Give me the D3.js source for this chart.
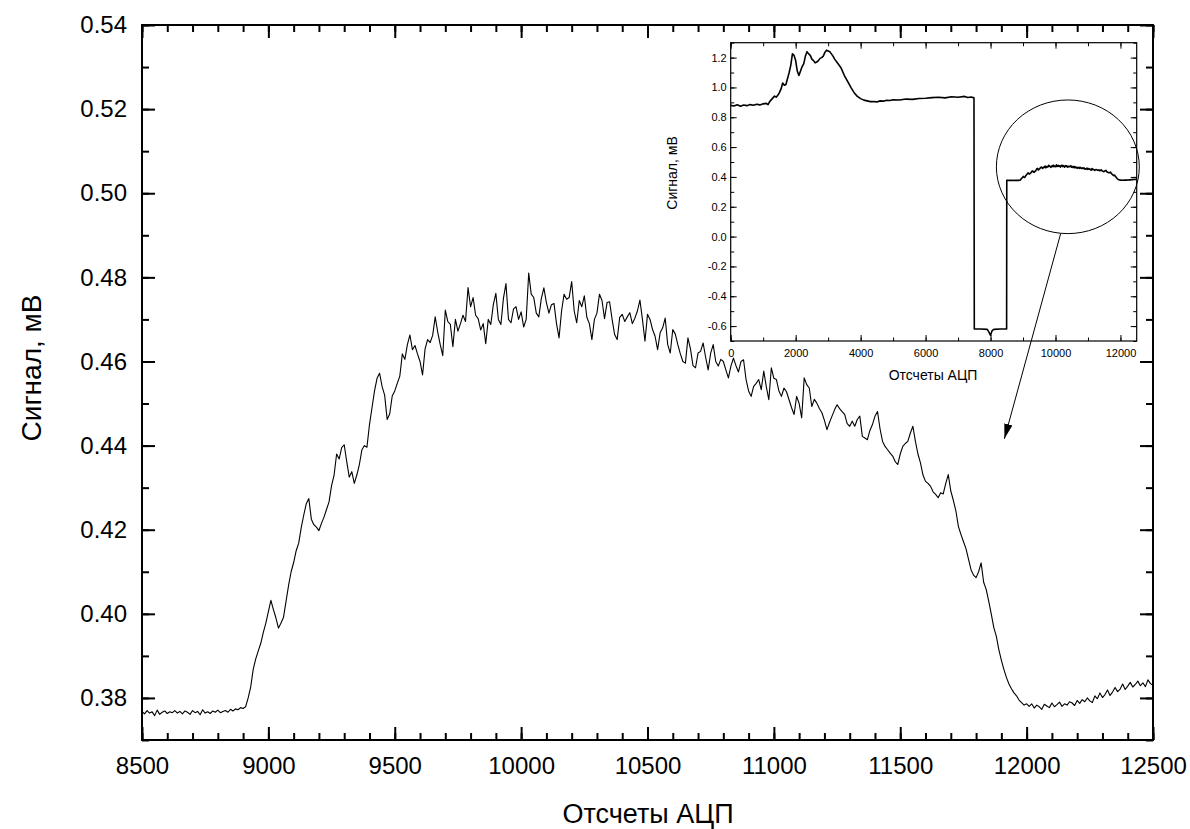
<!DOCTYPE html>
<html>
<head>
<meta charset="utf-8">
<script src="https://cdn.jsdelivr.net/npm/d3@7"></script>
<style>
  body { margin: 0; background: #fff; }
  svg { display: block; font-family: "Liberation Sans", Arial, sans-serif; }
</style>
</head>
<body>
<div id="chart"></div>
<script>
// Main trace: ADC counts 8500..12500, every 10th sample, signal in mV
const countStart = 8500, countStep = 10;
const signal = [
  0.3768, 0.3762, 0.3770, 0.3764, 0.3767, 0.3758, 0.3771, 0.3761, 0.3766, 0.3769,
  0.3763, 0.3767, 0.3765, 0.3770, 0.3764, 0.3768, 0.3762, 0.3769, 0.3766, 0.3761,
  0.3770, 0.3765, 0.3768, 0.3760, 0.3772, 0.3764, 0.3767, 0.3763, 0.3769, 0.3766,
  0.3771, 0.3765, 0.3768, 0.3770, 0.3766, 0.3773, 0.3769, 0.3774, 0.3772, 0.3777,
  0.3775,
  // 8910 - 9100
  0.3779, 0.3800, 0.3826, 0.3868, 0.3893, 0.3912, 0.3930, 0.3956, 0.3978, 0.4005,
  0.4032, 0.4010, 0.3990, 0.3966, 0.3978, 0.3992, 0.4030, 0.4068, 0.4100, 0.4122,
  // 9110 - 9500
  0.4150, 0.4168, 0.4205, 0.4235, 0.4262, 0.4274, 0.4225, 0.4212, 0.4206, 0.4198,
  0.4215, 0.4230, 0.4248, 0.4266, 0.4305, 0.4330, 0.4380, 0.4368, 0.4395, 0.4402,
  0.4362, 0.4325, 0.4338, 0.4310, 0.4330, 0.4355, 0.4390, 0.4400, 0.4396, 0.4450,
  0.4490, 0.4530, 0.4560, 0.4572, 0.4540, 0.4520, 0.4462, 0.4475, 0.4518, 0.4530,
  // 9510 - 10000
  0.4548, 0.4565, 0.4618, 0.4605, 0.4640, 0.4663, 0.4628, 0.4638, 0.4618, 0.4600,
  0.4568, 0.4630, 0.4652, 0.4645, 0.4662, 0.4706, 0.4670, 0.4640, 0.4614, 0.4722,
  0.4695, 0.4688, 0.4635, 0.4700, 0.4672, 0.4690, 0.4710, 0.4695, 0.4776, 0.4730,
  0.4752, 0.4710, 0.4702, 0.4675, 0.4690, 0.4642, 0.4700, 0.4688, 0.4735, 0.4762,
  0.4700, 0.4688, 0.4750, 0.4785, 0.4700, 0.4692, 0.4725, 0.4730, 0.4700, 0.4718,
  // 10010 - 10500
  0.4682, 0.4700, 0.4810, 0.4760, 0.4752, 0.4715, 0.4706, 0.4750, 0.4775, 0.4740,
  0.4715, 0.4735, 0.4738, 0.4690, 0.4656, 0.4720, 0.4760, 0.4748, 0.4752, 0.4790,
  0.4720, 0.4692, 0.4745, 0.4730, 0.4756, 0.4705, 0.4690, 0.4652, 0.4700, 0.4715,
  0.4760, 0.4745, 0.4702, 0.4740, 0.4742, 0.4700, 0.4664, 0.4652, 0.4705, 0.4712,
  0.4695, 0.4706, 0.4716, 0.4690, 0.4703, 0.4720, 0.4746, 0.4700, 0.4648, 0.4712,
  // 10510 - 11000
  0.4700, 0.4676, 0.4660, 0.4628, 0.4668, 0.4680, 0.4703, 0.4640, 0.4620, 0.4676,
  0.4665, 0.4640, 0.4618, 0.4600, 0.4596, 0.4656, 0.4630, 0.4590, 0.4585, 0.4620,
  0.4624, 0.4644, 0.4610, 0.4580, 0.4620, 0.4640, 0.4600, 0.4589, 0.4605, 0.4600,
  0.4580, 0.4561, 0.4589, 0.4608, 0.4590, 0.4575, 0.4600, 0.4604, 0.4557, 0.4530,
  0.4517, 0.4541, 0.4548, 0.4557, 0.4533, 0.4577, 0.4540, 0.4509, 0.4585, 0.4560,
  // 11010 - 11500
  0.4557, 0.4530, 0.4517, 0.4537, 0.4528, 0.4509, 0.4490, 0.4474, 0.4517, 0.4500,
  0.4466, 0.4561, 0.4545, 0.4537, 0.4493, 0.4510, 0.4501, 0.4488, 0.4478, 0.4460,
  0.4438, 0.4455, 0.4470, 0.4485, 0.4497, 0.4488, 0.4481, 0.4474, 0.4452, 0.4446,
  0.4458, 0.4446, 0.4462, 0.4470, 0.4422, 0.4418, 0.4414, 0.4436, 0.4450, 0.4470,
  0.4481, 0.4440, 0.4410, 0.4398, 0.4390, 0.4382, 0.4375, 0.4362, 0.4355, 0.4380,
  // 11510 - 12000
  0.4398, 0.4405, 0.4410, 0.4430, 0.4446, 0.4410, 0.4380, 0.4359, 0.4330, 0.4315,
  0.4310, 0.4303, 0.4290, 0.4284, 0.4276, 0.4288, 0.4285, 0.4310, 0.4331, 0.4292,
  0.4270, 0.4245, 0.4208, 0.4189, 0.4172, 0.4155, 0.4130, 0.4105, 0.4092, 0.4086,
  0.4100, 0.4121, 0.4075, 0.4058, 0.4030, 0.4000, 0.3968, 0.3947, 0.3915, 0.3890,
  0.3868, 0.3849, 0.3833, 0.3822, 0.3812, 0.3805, 0.3795, 0.3789, 0.3783, 0.3786,
  // 12010 - 12500
  0.3780, 0.3786, 0.3776, 0.3783, 0.3779, 0.3773, 0.3785, 0.3781, 0.3777, 0.3788,
  0.3779, 0.3784, 0.3790, 0.3780, 0.3786, 0.3783, 0.3791, 0.3788, 0.3782, 0.3794,
  0.3787, 0.3796, 0.3791, 0.3800, 0.3793, 0.3789, 0.3805, 0.3798, 0.3812, 0.3801,
  0.3808, 0.3819, 0.3806, 0.3814, 0.3825, 0.3815, 0.3821, 0.3833, 0.3820, 0.3828,
  0.3837, 0.3826, 0.3832, 0.3840, 0.3829, 0.3836, 0.3827, 0.3843, 0.3834, 0.3830
];

// Inset: full record before the zoomed part (counts, mV)
const insetCounts = [
  0, 100, 200, 300, 400, 500, 600, 700, 800, 900, 1000, 1100, 1150, 1200, 1300, 1350,
  1400, 1450, 1500, 1550, 1600, 1650, 1700, 1750, 1800, 1850, 1900, 1950, 2000, 2050,
  2100, 2150, 2200, 2250, 2300, 2350, 2400, 2450, 2500, 2550, 2600, 2650, 2700, 2750,
  2800, 2850, 2900, 2950, 3000, 3050, 3100, 3150, 3200, 3300, 3400, 3500, 3600, 3700,
  3800, 3900, 4000, 4100, 4200, 4300, 4400, 4500, 4600, 4700, 4800, 4900, 5000, 5200,
  5400, 5600, 5800, 6000, 6200, 6400, 6600, 6800, 7000, 7200, 7300, 7400, 7490, 7500,
  7700, 7900, 7950, 8000, 8050, 8100, 8300, 8495
];
const insetSignal = [
  0.880, 0.876, 0.884, 0.874, 0.882, 0.878, 0.885, 0.880, 0.887, 0.883, 0.890, 0.893, 0.885, 0.905, 0.930, 0.942,
  0.935, 0.948, 0.965, 0.990, 1.030, 1.015, 1.020, 1.060, 1.100, 1.150, 1.225, 1.215, 1.180, 1.110,
  1.080, 1.110, 1.140, 1.160, 1.210, 1.240, 1.225, 1.215, 1.190, 1.180, 1.165, 1.170, 1.180, 1.195,
  1.200, 1.210, 1.235, 1.250, 1.245, 1.240, 1.225, 1.210, 1.190, 1.160, 1.130, 1.080, 1.040, 1.000,
  0.965, 0.940, 0.925, 0.915, 0.910, 0.905, 0.906, 0.903, 0.910, 0.908, 0.914, 0.912, 0.918, 0.916,
  0.922, 0.920, 0.926, 0.928, 0.932, 0.934, 0.930, 0.938, 0.934, 0.940, 0.932, 0.936, 0.930, -0.620,
  -0.620, -0.622, -0.640, -0.662, -0.630, -0.622, -0.620, -0.620
];

const xTicks = [8500, 9000, 9500, 10000, 10500, 11000, 11500, 12000, 12500];
const yTicks = [0.38, 0.40, 0.42, 0.44, 0.46, 0.48, 0.50, 0.52, 0.54];
const insetXTicks = [0, 2000, 4000, 6000, 8000, 10000, 12000];
const insetYTicks = [-0.6, -0.4, -0.2, 0.0, 0.2, 0.4, 0.6, 0.8, 1.0, 1.2];

// highlighted region in inset (data units) and arrow target in main plot
const zoomEllipse = { cx: 10380, cy: 0.468, rx: 2200, ry: 0.448 };
const arrowFrom = { x: 10160, y: 0.021 };
const arrowTo = { x: 11912, y: 0.4416 };

const W = 1190, H = 829;
const svg = d3.select('#chart').append('svg')
  .attr('width', W).attr('height', H);

svg.append('defs').append('marker')
  .attr('id', 'head')
  .attr('viewBox', '0 0 10 10')
  .attr('refX', 10).attr('refY', 5)
  .attr('markerWidth', 15).attr('markerHeight', 15)
  .attr('markerUnits', 'userSpaceOnUse')
  .attr('orient', 'auto')
  .append('path').attr('d', 'M0,2.2 L10,5 L0,7.8 Z').attr('fill', '#000');

// draws a boxed Origin-style frame with inward major/minor ticks on all 4 sides
function drawFrame(g, x, y, o) {
  const [x0, x1] = x.range(), [y0, y1] = y.range();
  const sides = [
    [d3.axisBottom, x, `translate(0,${y0})`, o.xMajor, o.xMinor, o.xFmt, o.xPad],
    [d3.axisTop, x, `translate(0,${y1})`, o.xMajor, o.xMinor, null, 0],
    [d3.axisLeft, y, `translate(${x0},0)`, o.yMajor, o.yMinor, o.yFmt, o.yPad],
    [d3.axisRight, y, `translate(${x1},0)`, o.yMajor, o.yMinor, null, 0]
  ];
  sides.forEach(([axisFn, sc, tr, major, minor, fmt, pad]) => {
    const minorAx = g.append('g').attr('transform', tr)
      .call(axisFn(sc).tickValues(minor).tickSize(-o.minorLen).tickSizeOuter(0).tickFormat(''));
    const majorAx = g.append('g').attr('transform', tr)
      .call(axisFn(sc).tickValues(major).tickSize(-o.majorLen).tickSizeOuter(0)
        .tickPadding(pad).tickFormat(fmt || (() => '')));
    [minorAx, majorAx].forEach(a => {
      a.select('.domain').remove();
      a.selectAll('line').attr('stroke', '#000').attr('stroke-width', o.tickW);
      a.selectAll('text').attr('fill', '#000')
        .attr('font-size', o.labelSize)
        .attr('font-family', '"Liberation Sans", Arial, sans-serif');
    });
  });
  g.append('rect')
    .attr('x', x0).attr('y', y1)
    .attr('width', x1 - x0).attr('height', y0 - y1)
    .attr('fill', 'none').attr('stroke', '#000').attr('stroke-width', o.frameW);
}

// ---- main plot ----
const x = d3.scaleLinear().domain([8500, 12500]).range([142, 1153]);
const y = d3.scaleLinear().domain([0.37, 0.54]).range([740, 25]);

const mainG = svg.append('g');
mainG.append('path')
  .datum(signal)
  .attr('fill', 'none')
  .attr('stroke', '#000')
  .attr('stroke-width', 1.1)
  .attr('stroke-linejoin', 'round')
  .attr('d', d3.line()
    .x((d, i) => x(countStart + i * countStep))
    .y(d => y(d)));

drawFrame(mainG, x, y, {
  xMajor: xTicks, xMinor: d3.range(8500, 12501, 100),
  yMajor: yTicks, yMinor: d3.range(37, 55).map(v => v / 100),
  xFmt: d => String(d), yFmt: d => d.toFixed(2),
  xPad: 17, yPad: 15,
  majorLen: 13, minorLen: 7, tickW: 2, frameW: 2, labelSize: 24
});

svg.append('text')
  .attr('x', 648).attr('y', 823)
  .attr('text-anchor', 'middle')
  .attr('font-size', 27)
  .text('Отсчеты АЦП');
svg.append('text')
  .attr('transform', 'translate(41,368) rotate(-90)')
  .attr('text-anchor', 'middle')
  .attr('font-size', 28)
  .text('Сигнал, мВ');

// ---- inset ----
const ix = d3.scaleLinear().domain([0, 12500]).range([730.7, 1136.7]);
const iy = d3.scaleLinear().domain([-0.7, 1.3]).range([341, 42.7]);

const insetData = insetCounts.map((c, i) => [c, insetSignal[i]])
  .concat(signal.map((v, i) => [countStart + i * countStep, v]));

const insetG = svg.append('g');
insetG.append('path')
  .datum(insetData)
  .attr('fill', 'none')
  .attr('stroke', '#000')
  .attr('stroke-width', 1.6)
  .attr('stroke-linejoin', 'round')
  .attr('d', d3.line().x(d => ix(d[0])).y(d => iy(d[1])));

drawFrame(insetG, ix, iy, {
  xMajor: insetXTicks, xMinor: d3.range(0, 12501, 1000),
  yMajor: insetYTicks, yMinor: d3.range(-7, 14).map(v => v / 10),
  xFmt: d => String(d), yFmt: d => d.toFixed(1),
  xPad: 8, yPad: 4,
  majorLen: 6, minorLen: 3.5, tickW: 1, frameW: 1.2, labelSize: 11
});

insetG.append('text')
  .attr('x', 933).attr('y', 380)
  .attr('text-anchor', 'middle')
  .attr('font-size', 14)
  .text('Отсчеты АЦП');
insetG.append('text')
  .attr('transform', 'translate(677,173) rotate(-90)')
  .attr('text-anchor', 'middle')
  .attr('font-size', 14)
  .text('Сигнал, мВ');

// zoom ellipse and arrow
svg.append('ellipse')
  .attr('cx', ix(zoomEllipse.cx)).attr('cy', iy(zoomEllipse.cy))
  .attr('rx', ix(zoomEllipse.cx + zoomEllipse.rx) - ix(zoomEllipse.cx))
  .attr('ry', iy(zoomEllipse.cy - zoomEllipse.ry) - iy(zoomEllipse.cy))
  .attr('fill', 'none').attr('stroke', '#000').attr('stroke-width', 1);

svg.append('line')
  .attr('x1', ix(arrowFrom.x)).attr('y1', iy(arrowFrom.y))
  .attr('x2', x(arrowTo.x)).attr('y2', y(arrowTo.y))
  .attr('stroke', '#000').attr('stroke-width', 1)
  .attr('marker-end', 'url(#head)');
</script>
</body>
</html>
